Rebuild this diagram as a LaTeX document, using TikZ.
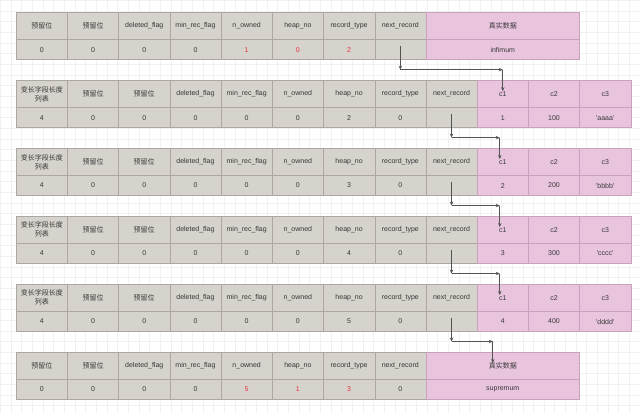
\documentclass[tikz,border=0pt]{standalone}
\usepackage{fontspec}
\setmainfont{Liberation Sans}
\newfontfamily\cjk{Noto Sans CJK SC}
\usetikzlibrary{arrows.meta,positioning,calc}
\definecolor{cellgray}{RGB}{214, 210, 204}
\definecolor{cellpink}{RGB}{233, 196, 221}
\definecolor{linegray}{RGB}{172, 167, 162}
\definecolor{linepink}{RGB}{201, 161, 190}
\definecolor{redtext}{RGB}{228, 52, 62}
\definecolor{gridgray}{RGB}{241, 241, 241}
\tikzset{
	field/.style={
		rectangle, minimum width=51.25pt, minimum height=27.5pt, inner sep=0pt, outer sep=0pt,
		draw=linegray, fill=cellgray, text=black!78, align=center, font=\fontsize{7}{9}\selectfont
	},
	%
	fieldval/.style={
		field, minimum height=20pt
	},
	%
	data/.style={
		field, draw=linepink, fill=cellpink
	},
	%
	dataval/.style={
		data, minimum height=20pt
	},
	%
	link/.style={
		-{Stealth[length=4pt,width=3.4pt]}, draw=black!68, line width=0.7pt
	}
}

\begin{document}
\begin{tikzpicture}[x=1pt,y=-1pt]
\fill[white] (0,0) rectangle (640,413);
\draw[gridgray, step=10.67pt] (0,0) grid (640,413);
\useasboundingbox (0,0) rectangle (640,413);

% infimum
\foreach \lab [count=\i from 0] in {{\cjk 预留位},{\cjk 预留位},deleted\_flag,min\_rec\_flag,n\_owned,heap\_no,record\_type,next\_record}
	\node(inf-h\i)[field, anchor=north west] at (16+51.25*\i, 12) {\lab};
\node(inf-dh)[data, anchor=north west, minimum width=153.75pt] at (426, 12) {\cjk 真实数据};
\foreach \val [count=\i from 0] in {0,0,0,0,{\color{redtext}1},{\color{redtext}0},{\color{redtext}2},{}}
	\node(inf-v\i)[fieldval, below=0pt of inf-h\i] {\val};
\node(inf-dv)[dataval, below=0pt of inf-dh, minimum width=153.75pt] {infimum};

% user records
\foreach \r/\hp/\ca/\cb/\cc [evaluate=\r as \top using 80+68*(\r-2)] in {2/2/1/100/aaaa, 3/3/2/200/bbbb, 4/4/3/300/cccc, 5/5/4/400/dddd} {
	\foreach \lab [count=\i from 0] in {{{\cjk 变长字段长度}\\{\cjk 列表}},{\cjk 预留位},{\cjk 预留位},deleted\_flag,min\_rec\_flag,n\_owned,heap\_no,record\_type,next\_record}
		\node(rec\r-h\i)[field, anchor=north west] at (16+51.25*\i, \top) {\lab};
	\foreach \val [count=\i from 0] in {4,0,0,0,0,0,\hp,0,{}}
		\node(rec\r-v\i)[fieldval, below=0pt of rec\r-h\i] {\val};
	\foreach \lab [count=\i from 9] in {c1,c2,c3}
		\node(rec\r-h\i)[data, anchor=north west] at (16+51.25*\i, \top) {\lab};
	\foreach \val [count=\i from 9] in {\ca,\cb,{\textquotesingle\cc\textquotesingle}}
		\node(rec\r-v\i)[dataval, below=0pt of rec\r-h\i] {\val};
}

% supremum
\foreach \lab [count=\i from 0] in {{\cjk 预留位},{\cjk 预留位},deleted\_flag,min\_rec\_flag,n\_owned,heap\_no,record\_type,next\_record}
	\node(sup-h\i)[field, anchor=north west] at (16+51.25*\i, 352) {\lab};
\node(sup-dh)[data, anchor=north west, minimum width=153.75pt] at (426, 352) {\cjk 真实数据};
\foreach \val [count=\i from 0] in {0,0,0,0,{\color{redtext}5},{\color{redtext}1},{\color{redtext}3},0}
	\node(sup-v\i)[fieldval, below=0pt of sup-h\i] {\val};
\node(sup-dv)[dataval, below=0pt of sup-dh, minimum width=153.75pt] {supremum};

% next_record links
\coordinate(bend1-a) at ([yshift=-10pt]inf-v7.south);
\coordinate(bend1-b) at (rec2-h9.north |- bend1-a);
\draw[link] ([yshift=4pt]inf-v7.center) -- (bend1-a);
\draw[link] (bend1-a) -- (bend1-b);
\draw[link] (bend1-b) -- ([yshift=-11pt]rec2-h9.north);
\foreach \r [evaluate=\r as \n using int(\r+1)] in {2,3,4} {
	\coordinate(bend\r-a) at ([yshift=-10pt]rec\r-v8.south);
	\coordinate(bend\r-b) at ([xshift=-3pt]rec\n-h9.north |- bend\r-a);
	\draw[link] ([yshift=4pt]rec\r-v8.center) -- (bend\r-a);
	\draw[link] (bend\r-a) -- (bend\r-b);
	\draw[link] (bend\r-b) -- ([xshift=-3pt,yshift=-11pt]rec\n-h9.north);
}
\coordinate(bend5-a) at ([yshift=-10pt]rec5-v8.south);
\coordinate(bend5-b) at ([xshift=-10pt]sup-dh.north |- bend5-a);
\draw[link] ([yshift=4pt]rec5-v8.center) -- (bend5-a);
\draw[link] (bend5-a) -- (bend5-b);
\draw[link] (bend5-b) -- ([xshift=-10pt,yshift=-11pt]sup-dh.north);
\end{tikzpicture}
\end{document}
